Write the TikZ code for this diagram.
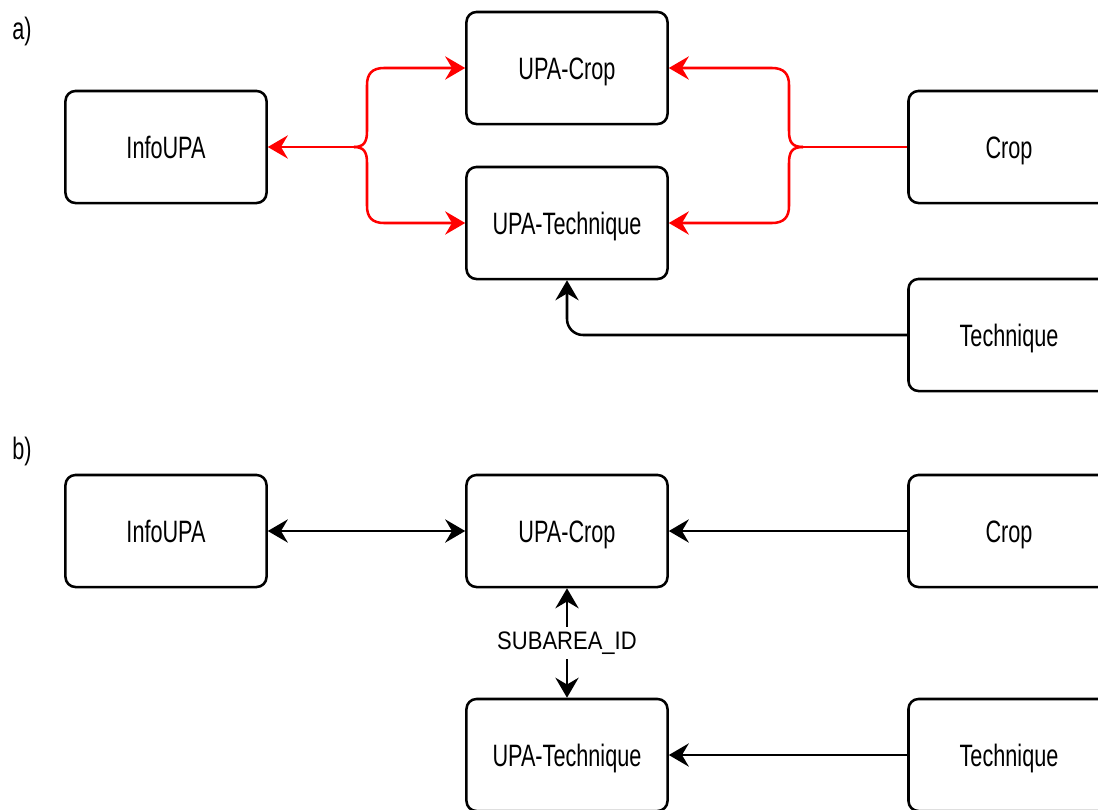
\documentclass[tikz,border=0pt]{standalone}
\usepackage{fontspec}
\setmainfont{Liberation Sans}[FakeStretch=0.7]
\newfontfamily\keyfont{Liberation Sans}[FakeStretch=0.87]
\usetikzlibrary{arrows.meta}

\begin{document}
\begin{tikzpicture}[x=0.025cm,y=-0.025cm,line width=1.8pt,line join=round,
        table/.style={draw,rounded corners=0.25cm,minimum width=5.025cm,minimum height=2.8cm,
            text height=15.7pt,text depth=0pt,font=\fontsize{22}{26}\selectfont},
        tag/.style={font=\fontsize{22}{26}\selectfont},
        link/.style={-{Stealth[length=0.5cm,width=0.58cm,inset=0.17cm]}},
        redlink/.style={link,red},
        bothlink/.style={{Stealth[length=0.5cm,width=0.58cm,inset=0.17cm]}-{Stealth[length=0.5cm,width=0.58cm,inset=0.17cm]}}]
    \useasboundingbox (0,0) rectangle (1098,809);
    \clip (0,0) rectangle (1098,809);

    % a)
    \node[tag] (lbla) at (22,31) {a)};
    \node[table] (ainfo) at (166,147) {InfoUPA};
    \node[table] (aupacrop) at (567,68) {UPA-Crop};
    \node[table] (aupatech) at (567,223) {UPA-Technique};
    \node[table] (acrop) at (1009,147) {Crop};
    \node[table] (atech) at (1009,335) {Technique};
    \coordinate (jl) at (354,147);
    \coordinate (jr) at (803,147);

    \draw[redlink] (jl) -- (ainfo);
    \draw[redlink] (jl) .. controls (364,147) and (367,142) .. (367,131) -- (367,85)
        .. controls (367,74) and (372,68) .. (384,68) -- (aupacrop.west);
    \draw[redlink] (jl) .. controls (364,147) and (367,152) .. (367,163) -- (367,206)
        .. controls (367,217) and (372,223) .. (384,223) -- (aupatech.west);
    \draw[red] (acrop) -- (jr);
    \draw[redlink] (jr) .. controls (792,147) and (789,142) .. (789,131) -- (789,85)
        .. controls (789,74) and (784,68) .. (772,68) -- (aupacrop.east);
    \draw[redlink] (jr) .. controls (792,147) and (789,152) .. (789,163) -- (789,206)
        .. controls (789,217) and (784,223) .. (772,223) -- (aupatech.east);
    \draw[link,rounded corners=0.4cm] (atech.west) -| (aupatech.south);

    % b)
    \node[tag] (lblb) at (22,451) {b)};
    \node[table] (binfo) at (166,531) {InfoUPA};
    \node[table] (bupacrop) at (567,531) {UPA-Crop};
    \node[table] (bcrop) at (1009,531) {Crop};
    \node[table] (bupatech) at (567,755) {UPA-Technique};
    \node[table] (btech) at (1009,755) {Technique};

    \draw[bothlink] (binfo) -- (bupacrop);
    \draw[link] (bcrop) -- (bupacrop);
    \draw[bothlink] (bupacrop) -- node[fill=white,inner sep=3pt,font=\keyfont\fontsize{18}{22}\selectfont] {SUBAREA\_ID} (bupatech);
    \draw[link] (btech) -- (bupatech);
\end{tikzpicture}
\end{document}
